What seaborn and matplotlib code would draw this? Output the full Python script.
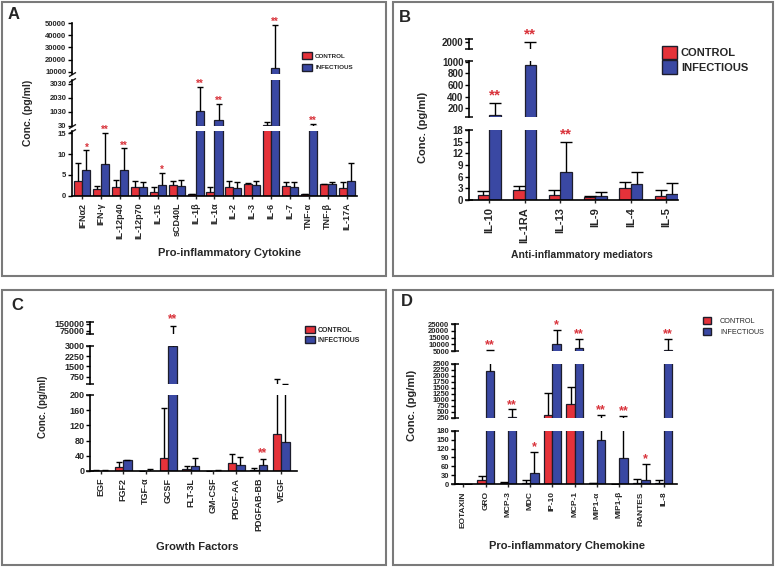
import numpy as np
import pandas as pd
import matplotlib
matplotlib.use("Agg")
import matplotlib.pyplot as plt
from matplotlib.patches import Patch, Rectangle
import seaborn as sns

sns.set_theme(style="ticks")
plt.rcParams['font.family'] = ['Liberation Sans', 'DejaVu Sans']

W, H = 777, 569
RED = "#E5323A"
BLUE = "#3A48A3"
EDGE = "#1d1d2b"
STAR = "#D9343C"
GROUPS = ["CONTROL", "INFECTIOUS"]

# A - pro-inflammatory cytokines
a_cats = ["IFN\u03b12", "IFN-\u03b3", "IL-12p40", "IL-12p70", "IL-15", "sCD40L", "IL-1\u03b2",
          "IL-1\u03b1", "IL-2", "IL-3", "IL-6", "IL-7", "TNF-\u03b1", "TNF-\u03b2", "IL-17A"]
a_ctrl = [3.5, 1.6, 2.0, 2.2, 1.0, 2.5, 0.3, 0.9, 2.2, 2.9, 60, 2.3, 0.3, 2.9, 1.8]
a_ctrl_sd = [4.3, 0.8, 1.7, 1.3, 1.0, 1.1, 0.2, 1.2, 1.3, 0.1, 240, 1.1, 0.2, 0.0, 1.5]
a_inf = [6.1, 7.6, 6.3, 2.1, 2.5, 2.3, 1090, 440, 1.9, 2.6, 13400, 2.1, 28, 2.8, 3.5]
a_inf_sd = [4.8, 7.6, 5.1, 1.2, 3.0, 1.5, 1700, 1130, 1.4, 0.9, 35600, 1.3, 102, 0.5, 4.3]
a_stars = ["*", "**", "**", "", "*", "", "**", "**", "", "", "**", "", "**", "", ""]

# B - anti-inflammatory mediators
b_cats = ["IL-10", "IL-1RA", "IL-13", "IL-9", "IL-4", "IL-5"]
b_ctrl = [1.2, 2.5, 1.3, 0.7, 3.1, 1.0]
b_ctrl_sd = [1.2, 1.0, 1.3, 0.3, 1.5, 1.6]
b_inf = [80, 950, 7.3, 1.0, 4.0, 1.5]
b_inf_sd = [210, 1050, 7.7, 1.0, 3.2, 3.0]
b_stars = ["**", "**", "**", "", "", ""]

# C - growth factors
c_cats = ["EGF", "FGF2", "TGF-\u03b1", "GCSF", "FLT-3L", "GM-CSF", "PDGF-AA", "PDGFAB-BB", "VEGF"]
c_ctrl = [1, 10, 0.5, 35, 5, 0.5, 22, 3, 98]
c_ctrl_sd = [2, 14, 0.5, 130, 7, 0.5, 24, 5, 452]
c_inf = [1, 30, 1, 3000, 12, 0.5, 17, 15, 77]
c_inf_sd = [2, 0, 4, 124000, 23, 2.5, 19, 16, 173]
c_stars = ["", "", "", "**", "", "", "", "**", ""]

# D - pro-inflammatory chemokines
d_cats = ["EOTAXIN", "GRO", "MCP-3", "MDC", "IP-10", "MCP-1", "MIP1-\u03b1", "MIP1-\u03b2", "RANTES", "IL-8"]
d_ctrl = [1, 13, 3, 3, 380, 810, 3, 1, 3, 5]
d_ctrl_sd = [1, 15, 5, 12, 920, 730, 2, 1, 15, 10]
d_inf = [1, 2200, 260, 38, 10000, 7500, 150, 88, 15, 5750]
d_inf_sd = [1, 3400, 340, 72, 10700, 6500, 230, 242, 53, 8250]
d_stars = ["", "**", "**", "*", "*", "**", "**", "**", "*", "**"]

fig = plt.figure(figsize=(W / 100, H / 100), dpi=100)
fig.patch.set_facecolor("white")


def draw_panel(cats, ctrl, ctrl_sd, inf, inf_sd, stars, left, right, xlim, width,
               segments, breaks, ytick_fs, xtick_fs, cap, star_fs, star_off):
    n = len(cats)
    df = pd.DataFrame({"cat": cats * 2,
                       "group": [GROUPS[0]] * n + [GROUPS[1]] * n,
                       "value": list(ctrl) + list(inf)})
    x = np.arange(n)
    xc, xi = x - width / 4, x + width / 4
    axes = []
    for k, (bot, top, ylim, ticks) in enumerate(segments):
        ax = fig.add_axes([left / W, 1 - bot / H, (right - left) / W, (bot - top) / H])
        sns.barplot(data=df, x="cat", y="value", hue="group", order=cats, hue_order=GROUPS,
                    palette=[RED, BLUE], width=width, saturation=1, errorbar=None,
                    edgecolor=EDGE, linewidth=0.9, legend=False, ax=ax)
        # bars that end below this segment would leak their edge line into it
        for p in ax.patches:
            if p.get_y() + p.get_height() < ylim[0]:
                p.set_visible(False)
        for xs, m, sd in [(xc, ctrl, ctrl_sd), (xi, inf, inf_sd)]:
            m, sd = np.asarray(m, float), np.asarray(sd, float)
            keep = m + sd >= ylim[0]
            if not keep.any():
                continue
            eb = ax.errorbar(xs[keep], m[keep], yerr=[np.zeros(keep.sum()), sd[keep]],
                             fmt="none", ecolor="black", elinewidth=1, capsize=cap, capthick=1)
            eb.lines[1][0].set_visible(False)  # upper caps only
        ax.set_xlim(xlim)
        ax.set_ylim(ylim)
        ax.set_xlabel("")
        ax.set_ylabel("")
        ax.set_yticks(ticks)
        ax.set_yticklabels([str(t) for t in ticks], fontsize=ytick_fs, fontweight="bold")
        ax.tick_params(axis="y", length=3, width=1, pad=1, color="black")
        for s in ["top", "right"]:
            ax.spines[s].set_visible(False)
        ax.spines["left"].set_linewidth(1.2)
        ax.spines["left"].set_color("black")
        ax.patch.set_alpha(0)
        if k == 0:
            ax.spines["bottom"].set_linewidth(1.2)
            ax.spines["bottom"].set_color("black")
            ax.set_xticks(x)
            ax.set_xticklabels(cats, rotation=90, fontsize=xtick_fs, fontweight="bold")
            ax.tick_params(axis="x", length=2, width=1, pad=3)
        else:
            ax.spines["bottom"].set_visible(False)
            ax.set_xticks([])
        if breaks == "slash":
            mk = dict(marker=[(-1, -0.6), (1, 0.6)], markersize=5, linestyle="none",
                      color="k", mec="k", mew=1, clip_on=False)
            if k > 0:
                ax.plot([0], [0], transform=ax.transAxes, **mk)
            if k < len(segments) - 1:
                ax.plot([0], [1], transform=ax.transAxes, **mk)
        else:
            ax.plot([0, 0], [0, 1], transform=ax.transAxes, marker="_", markersize=6,
                    mew=1.2, linestyle="none", color="k", clip_on=False)
        axes.append(ax)

    for i, s in enumerate(stars):
        if not s:
            continue
        t = inf[i] + inf_sd[i]
        idx = len(segments) - 1
        for k, seg in enumerate(segments):
            if t <= seg[2][1]:
                idx = k
                break
        axes[idx].annotate(s, xy=(xi[i], t), xytext=(0, star_off), textcoords="offset points",
                           ha="center", va="baseline", color=STAR, fontsize=star_fs,
                           fontweight="bold", annotation_clip=False)
    return axes


def add_legend(x, y, fs, weight, hl, hh, ls, tp):
    handles = [Patch(facecolor=RED, edgecolor=EDGE, linewidth=1),
               Patch(facecolor=BLUE, edgecolor=EDGE, linewidth=1)]
    fig.legend(handles, GROUPS, loc="upper left", bbox_to_anchor=(x / W, 1 - y / H),
               frameon=False, prop={"size": fs, "weight": weight}, handlelength=hl,
               handleheight=hh, labelspacing=ls, handletextpad=tp, borderpad=0,
               borderaxespad=0)


def text_px(x, y, s, **kw):
    fig.text(x / W, 1 - y / H, s, **kw)


# Panel A
draw_panel(a_cats, a_ctrl, a_ctrl_sd, a_inf, a_inf_sd, a_stars, 72, 357, (-0.55, 14.55), 0.85,
           [(195.7, 131, (0, 15.6), [0, 5, 10, 15]),
            (125.85, 79.8, (20, 3330), [30, 1030, 2030, 3030]),
            (74.1, 22.7, (8000, 50500), [10000, 20000, 30000, 40000, 50000])],
           "slash", 5.5, 6.5, 2.5, 7, 0)
add_legend(302, 52, 4.5, "bold", 1.6, 1.3, 0.8, 0.5)
text_px(28, 113, "Conc. (pg/ml)", rotation=90, ha="center", va="center", fontsize=7.5, fontweight="bold")
text_px(230, 253, "Pro-inflammatory Cytokine", ha="center", va="center", fontsize=8, fontweight="bold")
text_px(8, 7, "A", ha="left", va="top", fontsize=12, fontweight="bold")

# Panel B
draw_panel(b_cats, b_ctrl, b_ctrl_sd, b_inf, b_inf_sd, b_stars, 469, 678, (-0.57, 5.33), 0.65,
           [(200, 130, (0, 18), [0, 3, 6, 9, 12, 15, 18]),
            (117.3, 61.3, (40, 1010), [200, 400, 600, 800, 1000]),
            (49.3, 39.3, (1850, 2050), [2000])],
           "cap", 7, 8, 4, 11, 2.2)
add_legend(662, 46, 8, "bold", 1.35, 1.45, 0.1, 0.35)
text_px(423, 127, "Conc. (pg/ml)", rotation=90, ha="center", va="center", fontsize=8, fontweight="bold")
text_px(582, 255, "Anti-inflammatory mediators", ha="center", va="center", fontsize=7.5, fontweight="bold")
text_px(399, 10, "B", ha="left", va="top", fontsize=12, fontweight="bold")

# Panel C
draw_panel(c_cats, c_ctrl, c_ctrl_sd, c_inf, c_inf_sd, c_stars, 90, 297, (-0.47, 8.7), 0.75,
           [(471, 395, (0, 200), [0, 40, 80, 120, 160, 200]),
            (384, 345.7, (220, 3000), [750, 1500, 2250, 3000]),
            (334, 321.7, (38000, 170000), [75000, 150000])],
           "cap", 6.5, 6.5, 2.5, 8.5, 2.2)
add_legend(305, 326, 5, "bold", 1.45, 1.15, 0.3, 0.4)
text_px(43, 407, "Conc. (pg/ml)", rotation=90, ha="center", va="center", fontsize=7, fontweight="bold")
text_px(197, 547, "Growth Factors", ha="center", va="center", fontsize=8, fontweight="bold")
text_px(11, 298, "C", ha="left", va="top", fontsize=12, fontweight="bold")

# Panel D
draw_panel(d_cats, d_ctrl, d_ctrl_sd, d_inf, d_inf_sd, d_stars, 455, 677, (-0.38, 9.6), 0.75,
           [(484.3, 430.7, (0, 180), [0, 30, 60, 90, 120, 150, 180]),
            (417.7, 364, (250, 2500), list(range(250, 2501, 250))),
            (351, 324.3, (5000, 25000), [5000, 10000, 15000, 20000, 25000])],
           "cap", 5.5, 6, 3, 9, 1.1)
add_legend(703, 317, 5.2, "normal", 1.15, 1.15, 0.45, 1.2)
text_px(412, 405, "Conc. (pg/ml)", rotation=90, ha="center", va="center", fontsize=8, fontweight="bold")
text_px(567, 546, "Pro-inflammatory Chemokine", ha="center", va="center", fontsize=8, fontweight="bold")
text_px(401, 294, "D", ha="left", va="top", fontsize=12, fontweight="bold")

# panel frames
for (x0, y0, x1, y1) in [(2, 2, 386, 276), (393, 2, 773, 276), (2, 290, 386, 565), (393, 290, 773, 565)]:
    fig.patches.append(Rectangle((x0 / W, 1 - y1 / H), (x1 - x0) / W, (y1 - y0) / H,
                                 transform=fig.transFigure, fill=False, edgecolor="#7a7a7a", lw=1.5))

fig.savefig("out.png", dpi=100)
